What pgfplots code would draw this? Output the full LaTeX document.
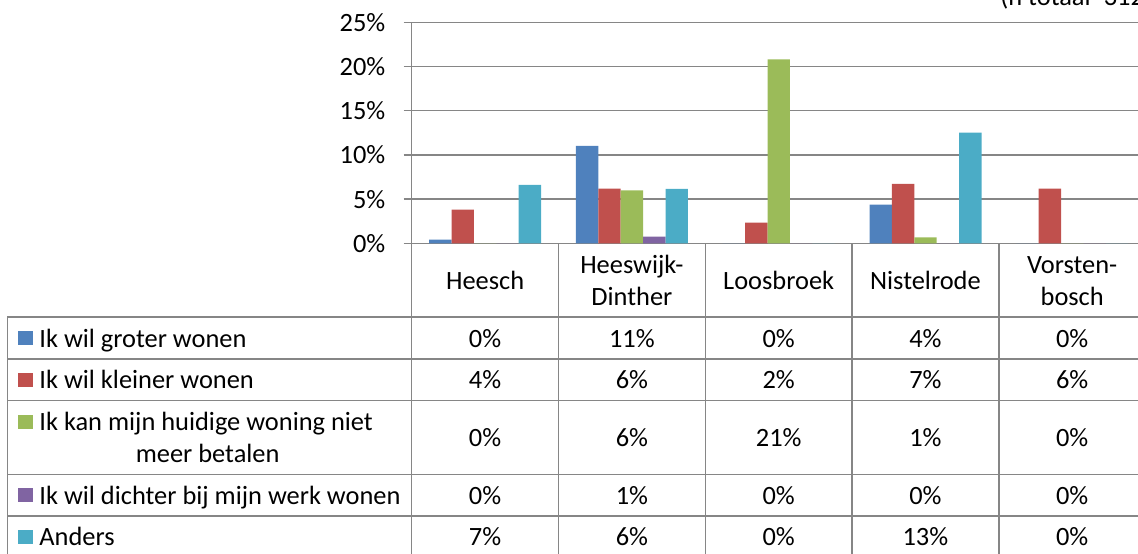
\documentclass[border=0pt]{standalone}
\usepackage{pgfplots}
\pgfplotsset{compat=1.18}
\usepackage{fontspec}
\setmainfont{Carlito}
\definecolor{serblue}{HTML}{4F81BD}
\definecolor{serred}{HTML}{C0504D}
\definecolor{sergreen}{HTML}{9BBB59}
\definecolor{serpurple}{HTML}{8064A2}
\definecolor{sercyan}{HTML}{4BACC6}
\definecolor{gridgray}{HTML}{868686}
\newcommand{\tfont}{\fontsize{13.2pt}{15.8pt}\selectfont}

\begin{document}
\begin{tikzpicture}
% picture laid out in reference pixels: 1 px = 0.5pt, y downwards
\useasboundingbox (0pt,0pt) rectangle (569pt,-276.5pt);

\begin{axis}[
    at={(205.85pt,-121.65pt)}, anchor=south west,
    scale only axis,
    width=367pt, height=110.5pt,
    xmin=0, xmax=5, ymin=0, ymax=25,
    xtick=\empty,
    ytick={0,5,...,25},
    yticklabel={\pgfmathprintnumber{\tick}\%},
    /pgf/number format/assume math mode=true,
    yticklabel style={font=\tfont, inner sep=0pt, xshift=-9pt},
    ytick pos=left,
    tick align=outside,
    major tick length=4pt,
    tick style={gridgray, line width=0.75pt},
    ymajorgrids,
    major grid style={gridgray, line width=0.75pt},
    axis x line*=bottom, axis y line*=left,
    axis line style={-, gridgray, line width=0.75pt},
    ybar=0pt, bar width=11.2pt,
]
% Ik wil groter wonen
\addplot[fill=serblue, draw=none] coordinates {(0.5,0.41) (1.5,11.01) (2.5,0) (3.5,4.37) (4.5,0)};
% Ik wil kleiner wonen
\addplot[fill=serred, draw=none] coordinates {(0.5,3.81) (1.5,6.18) (2.5,2.34) (3.5,6.71) (4.5,6.18)};
% Ik kan mijn huidige woning niet meer betalen
\addplot[fill=sergreen, draw=none] coordinates {(0.5,0) (1.5,6.0) (2.5,20.8) (3.5,0.68) (4.5,0)};
% Ik wil dichter bij mijn werk wonen
\addplot[fill=serpurple, draw=none] coordinates {(0.5,0) (1.5,0.75) (2.5,0) (3.5,0) (4.5,0)};
% Anders
\addplot[fill=sercyan, draw=none] coordinates {(0.5,6.6) (1.5,6.15) (2.5,0) (3.5,12.52) (4.5,0)};
\end{axis}

% data table under the chart
\begin{scope}[x=0.5pt,y=-0.5pt]
\draw[gridgray, line width=0.75pt]
  (7.3,316.9) -- (1150,316.9)
  (7.3,359) -- (1150,359)
  (7.3,400.3) -- (1150,400.3)
  (7.3,474.7) -- (1150,474.7)
  (7.3,516) -- (1150,516)
  (7.3,557.5) -- (1150,557.5)
  (7.3,316.9) -- (7.3,560)
  (411.7,243.3) -- (411.7,560)
  (558.5,243.3) -- (558.5,560)
  (705.3,243.3) -- (705.3,560)
  (852,243.3) -- (852,560)
  (998.8,243.3) -- (998.8,560);

\begin{scope}[every node/.style={font=\tfont, inner sep=0pt}]
% header
\node[anchor=base] at (485.1,289) {Heesch};
\node[anchor=base] at (631.9,273.5) {Heeswijk-};
\node[anchor=base] at (631.9,305.1) {Dinther};
\node[anchor=base] at (778.7,289) {Loosbroek};
\node[anchor=base] at (925.4,289) {Nistelrode};
\node[anchor=base] at (1072.2,273.5) {Vorsten-};
\node[anchor=base] at (1072.2,305.1) {bosch};

% row labels with keys
\fill[serblue]   (18.3,331.1) rectangle (32.5,345.1);
\node[anchor=base west] at (39,347) {Ik wil groter wonen};
\fill[serred]    (18.3,372.7) rectangle (32.5,386.7);
\node[anchor=base west] at (39,388.6) {Ik wil kleiner wonen};
\fill[sergreen]  (18.3,414.7) rectangle (32.5,428.7);
\node[anchor=base west] at (39,430.6) {Ik kan mijn huidige woning niet};
\node[anchor=base] at (207.6,462.2) {meer betalen};
\fill[serpurple] (18.3,488.4) rectangle (32.5,502.4);
\node[anchor=base west] at (39,504.3) {Ik wil dichter bij mijn werk wonen};
\fill[sercyan]   (18.3,529.6) rectangle (32.5,543.6);
\node[anchor=base west] at (39,545.5) {Anders};

% values
\foreach \x/\a/\b/\c/\d/\e in {485.1/0/4/0/0/7, 631.9/11/6/6/1/6, 778.7/0/2/21/0/0, 925.4/4/7/1/0/13, 1072.2/0/6/0/0/0}{
  \node[anchor=base] at (\x,347) {\a\%};
  \node[anchor=base] at (\x,388.6) {\b\%};
  \node[anchor=base] at (\x,446.4) {\c\%};
  \node[anchor=base] at (\x,504.3) {\d\%};
  \node[anchor=base] at (\x,545.5) {\e\%};
}

% note, cut off at the top right as in the source
\node[anchor=base west] at (1000,5) {(n totaal=312)};
\end{scope}
\end{scope}
\end{tikzpicture}
\end{document}
